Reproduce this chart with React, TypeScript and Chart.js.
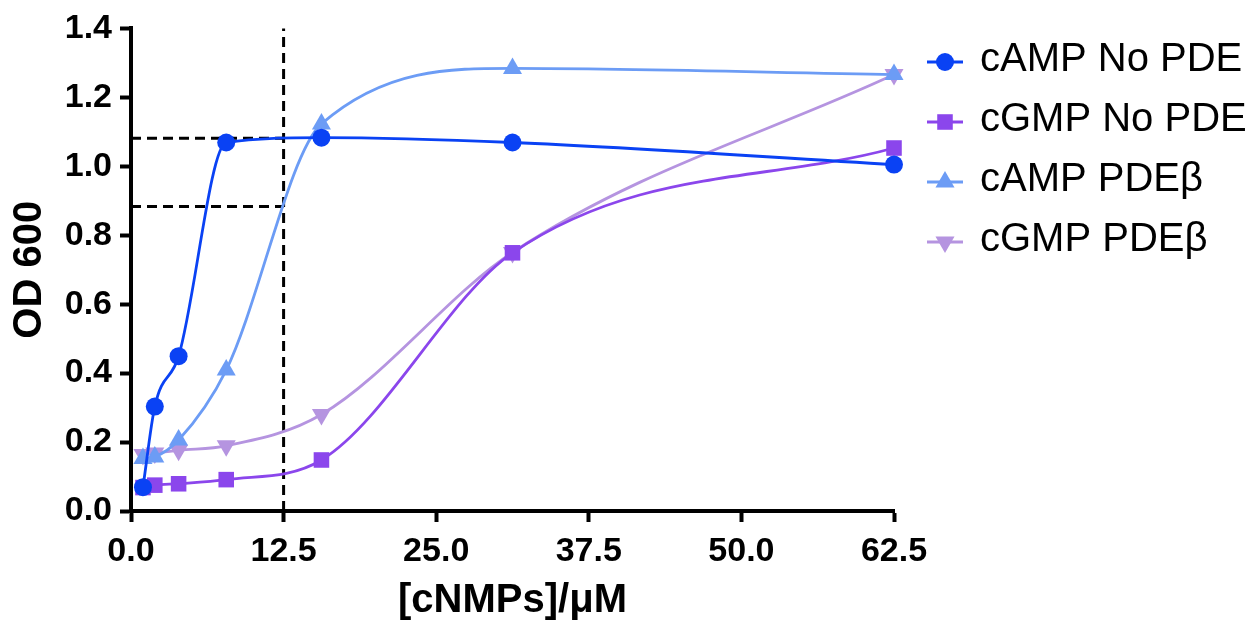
import React, { useEffect, useRef } from "react";
import { Chart, registerables } from "chart.js";

Chart.register(...registerables);

const concentrations = [0.98, 1.95, 3.9, 7.8, 15.6, 31.25, 62.5];
const campNoPde = [0.069, 0.303, 0.449, 1.069, 1.083, 1.069, 1.005];
const cgmpNoPde = [0.068, 0.075, 0.079, 0.091, 0.148, 0.749, 1.053];
const campPdeB = [0.152, 0.157, 0.206, 0.409, 1.123, 1.284, 1.266];
const cgmpPdeB = [0.164, 0.168, 0.176, 0.189, 0.28, 0.75, 1.266];

const seriesNames = ["cAMP No PDE", "cGMP No PDE", "cAMP PDE\u03b2", "cGMP PDE\u03b2"];
const seriesColors = ["#0a42f4", "#8b46ec", "#6c9cf5", "#b594e0"];
const seriesStyles = ["circle", "rect", "triangle", "triangle"];
const seriesRotation = [0, 0, 0, 180];
const seriesRadius = [9, 11, 11, 11];

const xTicks = [0, 12.5, 25, 37.5, 50, 62.5];
const yTicks = [0, 0.2, 0.4, 0.6, 0.8, 1.0, 1.2, 1.4];

const cutoffX = 12.5;
const upperY = 1.081;
const lowerY = 0.883;

const FONT = "'Liberation Sans', Arial, Helvetica, sans-serif";

function drawMarker(ctx: CanvasRenderingContext2D, style: string, x: number, y: number, r: number, rot: number) {
  ctx.beginPath();
  if (style === "circle") {
    ctx.arc(x, y, r, 0, Math.PI * 2);
  } else if (style === "rect") {
    const s = Math.SQRT1_2 * r;
    ctx.rect(x - s, y - s, 2 * s, 2 * s);
  } else {
    let a = (rot * Math.PI) / 180;
    ctx.moveTo(x + Math.sin(a) * r, y - Math.cos(a) * r);
    a += (2 * Math.PI) / 3;
    ctx.lineTo(x + Math.sin(a) * r, y - Math.cos(a) * r);
    a += (2 * Math.PI) / 3;
    ctx.lineTo(x + Math.sin(a) * r, y - Math.cos(a) * r);
    ctx.closePath();
  }
  ctx.fill();
}

const legendPlugin = {
  id: "customLegend",
  afterDraw(chart: any) {
    const ctx = chart.ctx as CanvasRenderingContext2D;
    ctx.save();
    const x0 = 927;
    const x1 = 963;
    const startY = 62;
    const gap = 60;
    seriesNames.forEach((name, i) => {
      const y = startY + i * gap;
      ctx.strokeStyle = seriesColors[i];
      ctx.fillStyle = seriesColors[i];
      ctx.lineWidth = 3;
      ctx.beginPath();
      ctx.moveTo(x0, y);
      ctx.lineTo(x1, y);
      ctx.stroke();
      drawMarker(ctx, seriesStyles[i], (x0 + x1) / 2, y, seriesRadius[i], seriesRotation[i]);
      ctx.fillStyle = "#000";
      ctx.font = `40px ${FONT}`;
      ctx.textBaseline = "middle";
      ctx.textAlign = "left";
      ctx.fillText(name, 980, y - 2);
    });
    ctx.restore();
  },
};

export default function App() {
  const canvasRef = useRef<HTMLCanvasElement | null>(null);

  useEffect(() => {
    document.body.style.margin = "0";
    const canvas = canvasRef.current;
    if (!canvas) return;

    const seriesData = [campNoPde, cgmpNoPde, campPdeB, cgmpPdeB];
    const datasets: any[] = seriesData.map((vals, i) => ({
      label: seriesNames[i],
      data: concentrations.map((c, j) => ({ x: c, y: vals[j] })),
      borderColor: seriesColors[i],
      backgroundColor: seriesColors[i],
      borderWidth: 2.8,
      pointStyle: seriesStyles[i],
      pointRotation: seriesRotation[i],
      pointRadius: seriesRadius[i],
      pointBorderWidth: 0,
      cubicInterpolationMode: "monotone",
      clip: false,
      order: 1,
    }));

    const dashed = {
      borderColor: "#000",
      borderWidth: 3,
      borderDash: [10, 6],
      pointRadius: 0,
      fill: false,
      clip: false,
      order: 2,
    };
    datasets.push({ ...dashed, label: "cutoff", data: [{ x: cutoffX, y: 0 }, { x: cutoffX, y: 1.4 }] });
    datasets.push({ ...dashed, label: "upper", data: [{ x: 0, y: upperY }, { x: cutoffX, y: upperY }] });
    datasets.push({ ...dashed, label: "lower", data: [{ x: 0, y: lowerY }, { x: cutoffX, y: lowerY }] });

    const chart = new Chart(canvas, {
      type: "line",
      data: { datasets },
      plugins: [legendPlugin],
      options: {
        responsive: false,
        animation: false,
        events: [],
        layout: { padding: { left: 6, top: 22, right: 354, bottom: 0 } },
        plugins: { legend: { display: false }, tooltip: { enabled: false } },
        scales: {
          x: {
            type: "linear",
            min: 0,
            max: 62.5,
            afterBuildTicks: (axis: any) => {
              axis.ticks = xTicks.map((v) => ({ value: v }));
            },
            afterFit: (axis: any) => {
              axis.height = 114;
            },
            ticks: {
              color: "#000",
              font: { family: FONT, size: 34, weight: "bold" },
              padding: 9,
              maxRotation: 0,
              callback: (v: any) => Number(v).toFixed(1),
            },
            grid: {
              drawOnChartArea: false,
              drawTicks: true,
              tickLength: 11,
              tickWidth: 4,
              tickColor: "#000",
            },
            border: { display: true, color: "#000", width: 4 },
            title: {
              display: true,
              text: "[cNMPs]/\u03bcM",
              color: "#000",
              font: { family: FONT, size: 40, weight: "bold" },
              padding: { top: 6, bottom: 0 },
            },
          },
          y: {
            type: "linear",
            min: 0,
            max: 1.4,
            afterBuildTicks: (axis: any) => {
              axis.ticks = yTicks.map((v) => ({ value: v }));
            },
            afterFit: (axis: any) => {
              axis.width = 125;
            },
            ticks: {
              color: "#000",
              font: { family: FONT, size: 34, weight: "bold" },
              padding: 8,
              callback: (v: any) => Number(v).toFixed(1),
            },
            grid: {
              drawOnChartArea: false,
              drawTicks: true,
              tickLength: 11,
              tickWidth: 4,
              tickColor: "#000",
            },
            border: { display: true, color: "#000", width: 4 },
            title: {
              display: true,
              text: "OD 600",
              color: "#000",
              font: { family: FONT, size: 40, weight: "bold" },
              padding: { top: 0, bottom: 0 },
            },
          },
        },
      } as any,
    });

    return () => chart.destroy();
  }, []);

  return (
    <div style={{ position: "absolute", left: 0, top: 0, width: 1248, height: 625 }}>
      <canvas ref={canvasRef} width={1248} height={625} style={{ display: "block", width: 1248, height: 625 }} />
    </div>
  );
}
